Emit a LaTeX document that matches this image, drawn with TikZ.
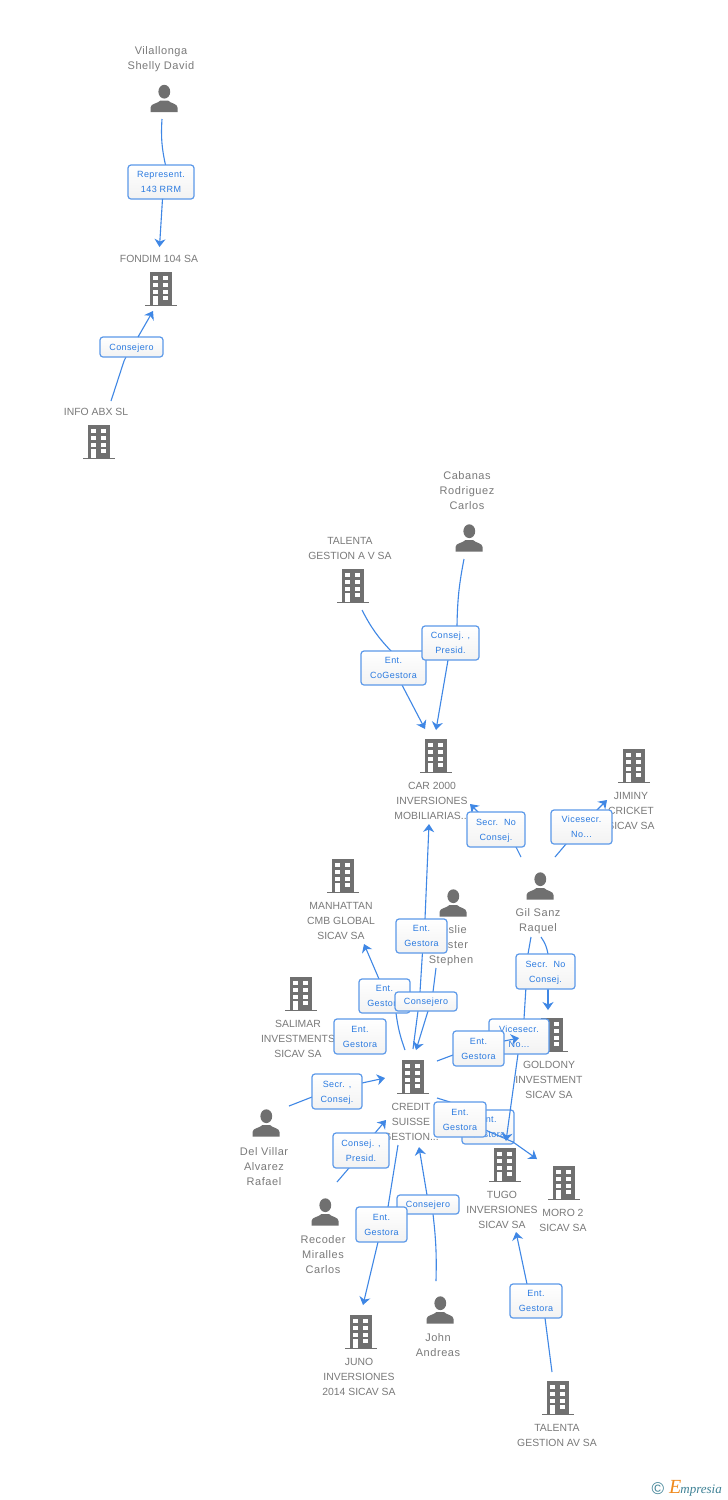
\documentclass[tikz,border=0pt]{standalone}
\usepackage{fontspec}
\setmainfont{Liberation Sans}
\newfontfamily\boxfont[LetterSpace=4.5]{Liberation Sans}
\newfontfamily\namefont[LetterSpace=5]{Liberation Sans}
\newfontfamily\logofont{Liberation Serif}
\usetikzlibrary{arrows.meta,calc}
\definecolor{icongray}{HTML}{707070}
\definecolor{txtgray}{HTML}{7A7A7A}
\definecolor{linkblue}{HTML}{3F87E5}
\definecolor{boxedge}{HTML}{5C99E9}
\definecolor{boxtext}{HTML}{2A7AE0}
\definecolor{logoteal}{HTML}{3F8296}
\definecolor{logoorange}{HTML}{F08A1D}
\tikzset{
  x=1pt,y=-1pt,
  buildingtxt/.style={text=txtgray,align=center,inner sep=0pt,yshift=-1pt,font=\fontsize{10.4}{15}\selectfont},
  persontxt/.style={text=txtgray,align=center,inner sep=0pt,yshift=-1pt,font=\namefont\fontsize{11}{15}\selectfont},
  iconspot/.style={inner sep=0pt,minimum size=1pt},
  linkbox/.style={draw=boxedge,line width=1.2pt,rounded corners=3pt,top color=white,bottom color=black!5,
    text=boxtext,inner sep=0pt,font=\boxfont\fontsize{9}{15}\selectfont},
  conn/.style={draw=linkblue,line width=1.1pt},
  connarrow/.style={conn,-{Stealth[length=8pt,width=11pt,inset=2.5pt]}},
  building/.pic={
    \fill[icongray] (-11,-17) rectangle (11,15.5);
    \fill[icongray] (-16,15.5) rectangle (16,17);
    \foreach \wy in {-13,-6,0.7} {
      \fill[white] (-7.7,\wy) rectangle (-3,\wy+4.3);
      \fill[white] (1.7,\wy) rectangle (6.7,\wy+4.3);
    }
    \fill[white] (1.7,6.7) rectangle (6.7,11.3);
    \fill[white] (-7.7,6.7) rectangle (-3,15.5);
  },
  person/.pic={
    \fill[icongray] (0.3,-6.8) ellipse (5.9 and 6.9);
    \fill[icongray] (-13.5,13.5) -- (-13.5,9) .. controls (-13.5,5) and (-6,5) .. (-3.5,2)
      -- (4,2) .. controls (6.5,5) and (13.5,5) .. (13.5,9) -- (13.5,13.5) -- cycle;
  },
}
% \icn{name}{pic}{x}{y}{tx}{ty}{text}
\newcommand{\icn}[7]{%
  \node[iconspot] (#1) at (#3,#4) {};
  \pic at (#1) {#2};
  \node[#2txt] (#1-t) at (#5,#6) {#7};
}
% \lab{name}{x1}{y1}{x2}{y2}{text}
\newcommand{\lab}[6]{%
  \path let \n1={#4-#2},\n2={#5-#3} in
    node[linkbox,minimum width=\n1*1pt,minimum height=\n2*1pt] (#1) at ({(#2+#4)/2},{(#3+#5)/2})
    {\raisebox{-0.7pt}{\begin{tabular}{@{}c@{}}#6\end{tabular}}};
}
% \feed{id}{bend}{start}{entry}{box}: start -> box
\newcommand{\feed}[5]{%
  \coordinate (#1-s) at (#3);
  \coordinate (#1-i) at (#4);
  \draw[conn] (#1-s) to[bend left=#2] (#1-i) -- (#5);
}
% \emit{id}{box}{exit}{tip}: box -> tip
\newcommand{\emit}[4]{%
  \coordinate (#1-o) at (#3);
  \coordinate (#1-e) at (#4);
  \draw[connarrow] (#2) -- (#1-o) -- (#1-e);
}
\begin{document}
\begin{tikzpicture}
\useasboundingbox (0,0) rectangle (728,1500);
\fill[white] (0,0) rectangle (728,1500);

% icons and their texts
\icn{vil}{person}{164}{98.5}{161}{58}{Vilallonga\\Shelly David}
\icn{fon}{building}{161}{289}{159}{258}{FONDIM 104 SA}
\icn{inf}{building}{99}{442}{96}{411}{INFO ABX SL}
\icn{cab}{person}{469}{538}{467}{490}{Cabanas\\Rodriguez\\Carlos}
\icn{tav}{building}{353}{586}{350}{547.5}{TALENTA\\GESTION A V SA}
\icn{car}{building}{436}{756}{432}{800}{CAR 2000\\INVERSIONES\\MOBILIARIAS...}
\icn{jim}{building}{634}{766}{631}{810}{JIMINY\\CRICKET\\SICAV SA}
\icn{man}{building}{343}{876}{341}{920}{MANHATTAN\\CMB GLOBAL\\SICAV SA}
\icn{les}{person}{453}{903}{451}{945}{Leslie\\Foster\\Stephen}
\icn{gil}{person}{540}{886}{538}{920.5}{Gil Sanz\\Raquel}
\icn{sal}{building}{301}{994}{298}{1038}{SALIMAR\\INVESTMENTS\\SICAV SA}
\icn{gol}{building}{552}{1035}{549}{1079}{GOLDONY\\INVESTMENT\\SICAV SA}
\icn{cre}{building}{413}{1077}{411}{1121}{CREDIT\\SUISSE\\GESTION...}
\icn{del}{person}{266}{1123}{264}{1166}{Del Villar\\Alvarez\\Rafael}
\icn{rec}{person}{325}{1212}{323}{1254}{Recoder\\Miralles\\Carlos}
\icn{tug}{building}{505}{1165}{502}{1209}{TUGO\\INVERSIONES\\SICAV SA}
\icn{mor}{building}{564}{1183}{563}{1219.5}{MORO 2\\SICAV SA}
\icn{jun}{building}{361}{1332}{359}{1376}{JUNO\\INVERSIONES\\2014 SICAV SA}
\icn{joh}{person}{440}{1310}{438}{1344.5}{John\\Andreas}
\icn{tal}{building}{558}{1398}{557}{1434.5}{TALENTA\\GESTION AV SA}

% Vilallonga -> Fondim
\path coordinate (a1-anchor) at (161,182);
\feed{a1}{-8}{162,119}{165.5,165}{a1-anchor}
\lab{l1}{128}{165}{194}{199}{Represent.\\143 RRM}
\emit{a1}{l1}{162.5,199}{159.5,247}

% Info -> Fondim
\path coordinate (a2-anchor) at (131,347);
\feed{a2}{0}{111,401}{124,361}{a2-anchor}
\lab{l2}{100}{337}{163}{357}{Consejero}
\emit{a2}{l2}{138,337}{153,311}

% Talenta A V -> Car
\path coordinate (a3-anchor) at (393,668);
\feed{a3}{-8}{362,610}{391,651}{a3-anchor}
\draw[connarrow] (a3-anchor) -- (402,685) -- (425,729);
\lab{l3}{361}{651}{426}{685}{Ent.\\CoGestora}

% Cabanas -> Car
\path coordinate (a4-anchor) at (450,643);
\feed{a4}{-5}{464,559}{457,626}{a4-anchor}
\draw[connarrow] (a4-anchor) -- (448,660) -- (436,730);
\lab{l4}{422}{626}{479}{660}{Consej. ,\\Presid.}

% Gil -> Car
\coordinate (a5-s) at (521,857);
\coordinate (a5-e) at (470,804);
\coordinate (a5-c) at (496,829.5);
\draw[conn] (a5-s) -- (516,847) -- (a5-c);
\draw[connarrow] (a5-c) -- (478,812) -- (a5-e);
\lab{l5}{467}{812}{525}{847}{Secr.\ \ No\\Consej.}

% Gil -> Jiminy
\coordinate (a6-s) at (555,857);
\coordinate (a6-e) at (607,800);
\coordinate (a6-c) at (581,827);
\draw[conn] (a6-s) -- (566,844) -- (a6-c);
\draw[connarrow] (a6-c) -- (597,810) -- (a6-e);
\lab{l6}{551}{810}{612}{844}{Vicesecr.\\No...}

% Credit -> Car
\coordinate (a7-s) at (413,1049);
\coordinate (a7-e) at (429,824);
\coordinate (a7-c) at (423.5,936);
\draw[conn] (a7-s) -- (418,1011) -- (420,992) -- (a7-c);
\draw[connarrow] (a7-c) -- (425,919) -- (a7-e);
\lab{l7}{396}{919}{447}{953}{Ent.\\Gestora}

% Credit -> Manhattan
\coordinate (a8-s) at (405,1050);
\coordinate (a8-e) at (364,944);
\coordinate (a8-c) at (385,996);
\draw[conn] (a8-s) to[bend left=6] (396,1013) -- (a8-c);
\draw[connarrow] (a8-c) -- (379,979) -- (a8-e);
\lab{l8}{359}{979}{410}{1013}{Ent.\\Gestora}

% Leslie -> Credit
\coordinate (a9-s) at (436,968);
\coordinate (a9-e) at (416,1050);
\coordinate (a9-c) at (430,1001);
\draw[conn] (a9-s) -- (433,992) -- (a9-c);
\draw[connarrow] (a9-c) -- (428,1011) -- (a9-e);
\lab{l9}{395}{992}{457}{1011}{Consejero}

\lab{l10}{334}{1019}{386}{1054}{Ent.\\Gestora}

% Del Villar -> Credit
\coordinate (a11-s) at (289,1106);
\coordinate (a11-e) at (385,1078);
\coordinate (a11-c) at (337,1091);
\draw[conn] (a11-s) -- (312,1097) -- (a11-c);
\draw[connarrow] (a11-c) -- (362,1083) -- (a11-e);
\lab{l11}{312}{1074}{362}{1109}{Secr. ,\\Consej.}

% Recoder -> Credit
\coordinate (a12-s) at (337,1182);
\coordinate (a12-e) at (386,1120);
\coordinate (a12-c) at (361,1150);
\draw[conn] (a12-s) -- (349,1168) -- (a12-c);
\draw[connarrow] (a12-c) -- (375,1133) -- (a12-e);
\lab{l12}{333}{1133}{389}{1168}{Consej. ,\\Presid.}

% John -> Credit
\coordinate (a13-s) at (436,1281);
\coordinate (a13-e) at (419,1147);
\coordinate (a13-c) at (430,1204);
\draw[conn] (a13-s) to[bend right=4] (433,1214) -- (a13-c);
\draw[connarrow] (a13-c) -- (427,1195) -- (a13-e);
\lab{l13}{397}{1195}{459}{1214}{Consejero}

% Credit -> Juno
\coordinate (a14-s) at (398,1145);
\coordinate (a14-e) at (363,1305);
\coordinate (a14-c) at (382,1224);
\draw[conn] (a14-s) -- (388,1207) -- (a14-c);
\draw[connarrow] (a14-c) -- (378,1242) -- (a14-e);
\lab{l14}{356}{1207}{407}{1242}{Ent.\\Gestora}

% Gil -> Goldony
\coordinate (a15-s) at (541,937);
\coordinate (a15-e) at (548,1010);
\coordinate (a15-c) at (548,971);

% box behind
\lab{l18}{462}{1110}{514}{1144}{Ent.\\Gestora}

% Gil -> Tugo
\coordinate (a16-s) at (531,937);
\coordinate (a16-e) at (506,1141);
\draw[connarrow] (a16-s) -- (528,954) -- (524,1019) -- (518,1054) -- (a16-e);
\lab{l16}{489}{1019}{549}{1054}{Vicesecr.\\No...}

\draw[conn] (a15-s) to[bend left=12] (548,954) -- (a15-c);
\draw[connarrow] (a15-c) -- (548,989) -- (a15-e);
\lab{l15}{516}{954}{575}{989}{Secr.\ \ No\\Consej.}

% Credit -> Goldony
\coordinate (a17-s) at (437,1061);
\coordinate (a17-e) at (519,1038);
\coordinate (a17-c) at (478,1048);
\draw[conn] (a17-s) -- (453,1055) -- (a17-c);
\draw[connarrow] (a17-c) -- (504,1041) -- (a17-e);
\lab{l17}{453}{1031}{504}{1066}{Ent.\\Gestora}

% Credit -> Moro
\coordinate (a19-s) at (437,1098);
\coordinate (a19-e) at (537,1159);
\coordinate (a19-c) at (460,1119);
\draw[conn] (a19-s) -- (450,1102) -- (a19-c);
\draw[connarrow] (a19-c) -- (513,1142) -- (a19-e);
\lab{l19}{434}{1102}{486}{1137}{Ent.\\Gestora}

% Talenta AV -> Tugo
\coordinate (a20-s) at (552,1372);
\coordinate (a20-e) at (516,1232);
\coordinate (a20-c) at (536,1301);
\draw[conn] (a20-s) -- (545,1318) -- (a20-c);
\draw[connarrow] (a20-c) -- (527,1284) -- (a20-e);
\lab{l20}{510}{1284}{562}{1318}{Ent.\\Gestora}

% logo
\node[inner sep=0pt,text=logoteal,font=\fontsize{17}{17}\selectfont] (logoc) at (658,1489) {©};
\node[inner sep=0pt,anchor=base west,font=\logofont\itshape\fontsize{13}{14}\selectfont,text=logoteal] (logot) at (669,1493)
  {{\color{logoorange}\fontsize{20}{20}\selectfont E}\hspace{-1pt}mpresia};
\end{tikzpicture}
\end{document}
